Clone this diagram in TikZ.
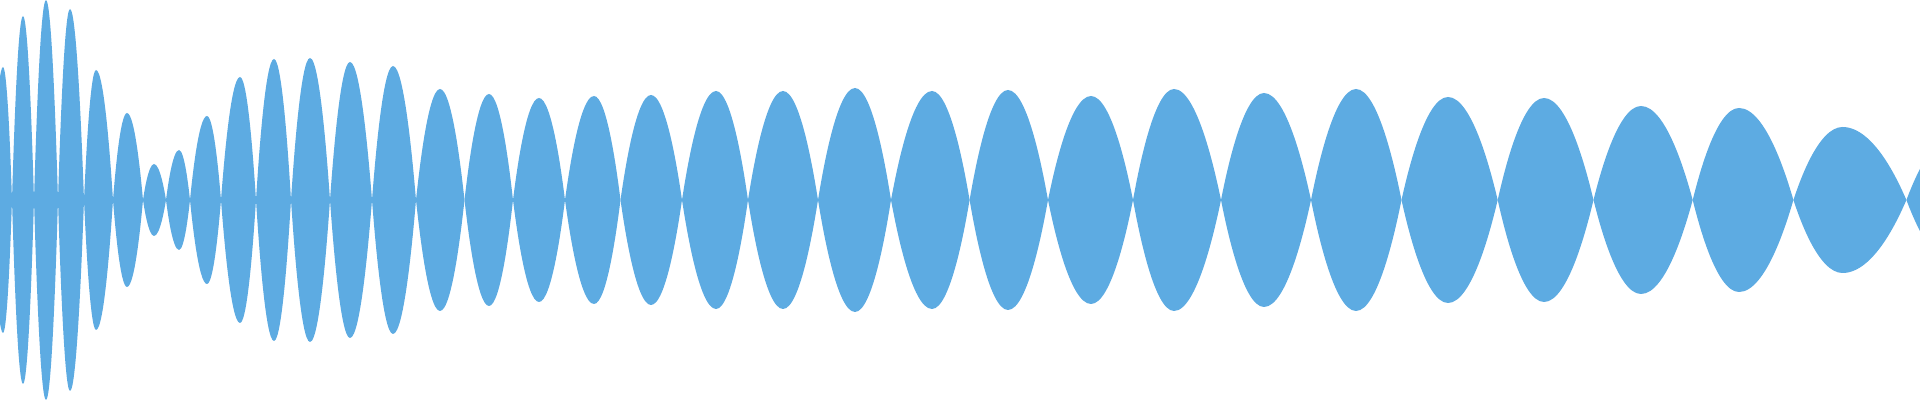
\documentclass[tikz,border=0pt]{standalone}
\definecolor{wave}{RGB}{93,171,226}
\begin{document}
\begin{tikzpicture}[x=0.01cm,y=0.01cm]
\useasboundingbox (0,-200) rectangle (1920,200);
\clip (0,-200) rectangle (1920,200);
\foreach \a/\p/\b/\h in {
-8/3/12/133, 12/23/34/184, 34/46/58/200, 58/70/84/191, 84/96/113/130,
113/127/143/87, 143/154/166/36, 166/179/190/50, 190/207/221/84,
221/240/256/123, 256/274/291/141, 291/310/330/142, 330/350/372/138,
372/393/416/134, 416/440/464.5/111, 464.5/489/513/106, 513/539/565/102,
565/594/620.5/104, 620.5/651/682/105, 682/716/748/109, 748/783/818/109,
818/855/891/112, 891/932/969.6/109, 969.6/1008/1048/110, 1048/1091/1133/104,
1133/1174/1221/111, 1221/1264/1311/107, 1311/1356/1401.5/111,
1401.5/1448/1497.7/103, 1497.7/1544/1593.5/102, 1593.5/1641/1692.7/94,
1692.7/1739/1793.4/92, 1793.4/1842.5/1906.4/73, 1906.4/1960/2010/70}
{
  \fill[wave] (\a,0) parabola bend (\p,\h) (\b,0) parabola bend (\p,-\h) (\a,0) -- cycle;
}
\end{tikzpicture}
\end{document}
